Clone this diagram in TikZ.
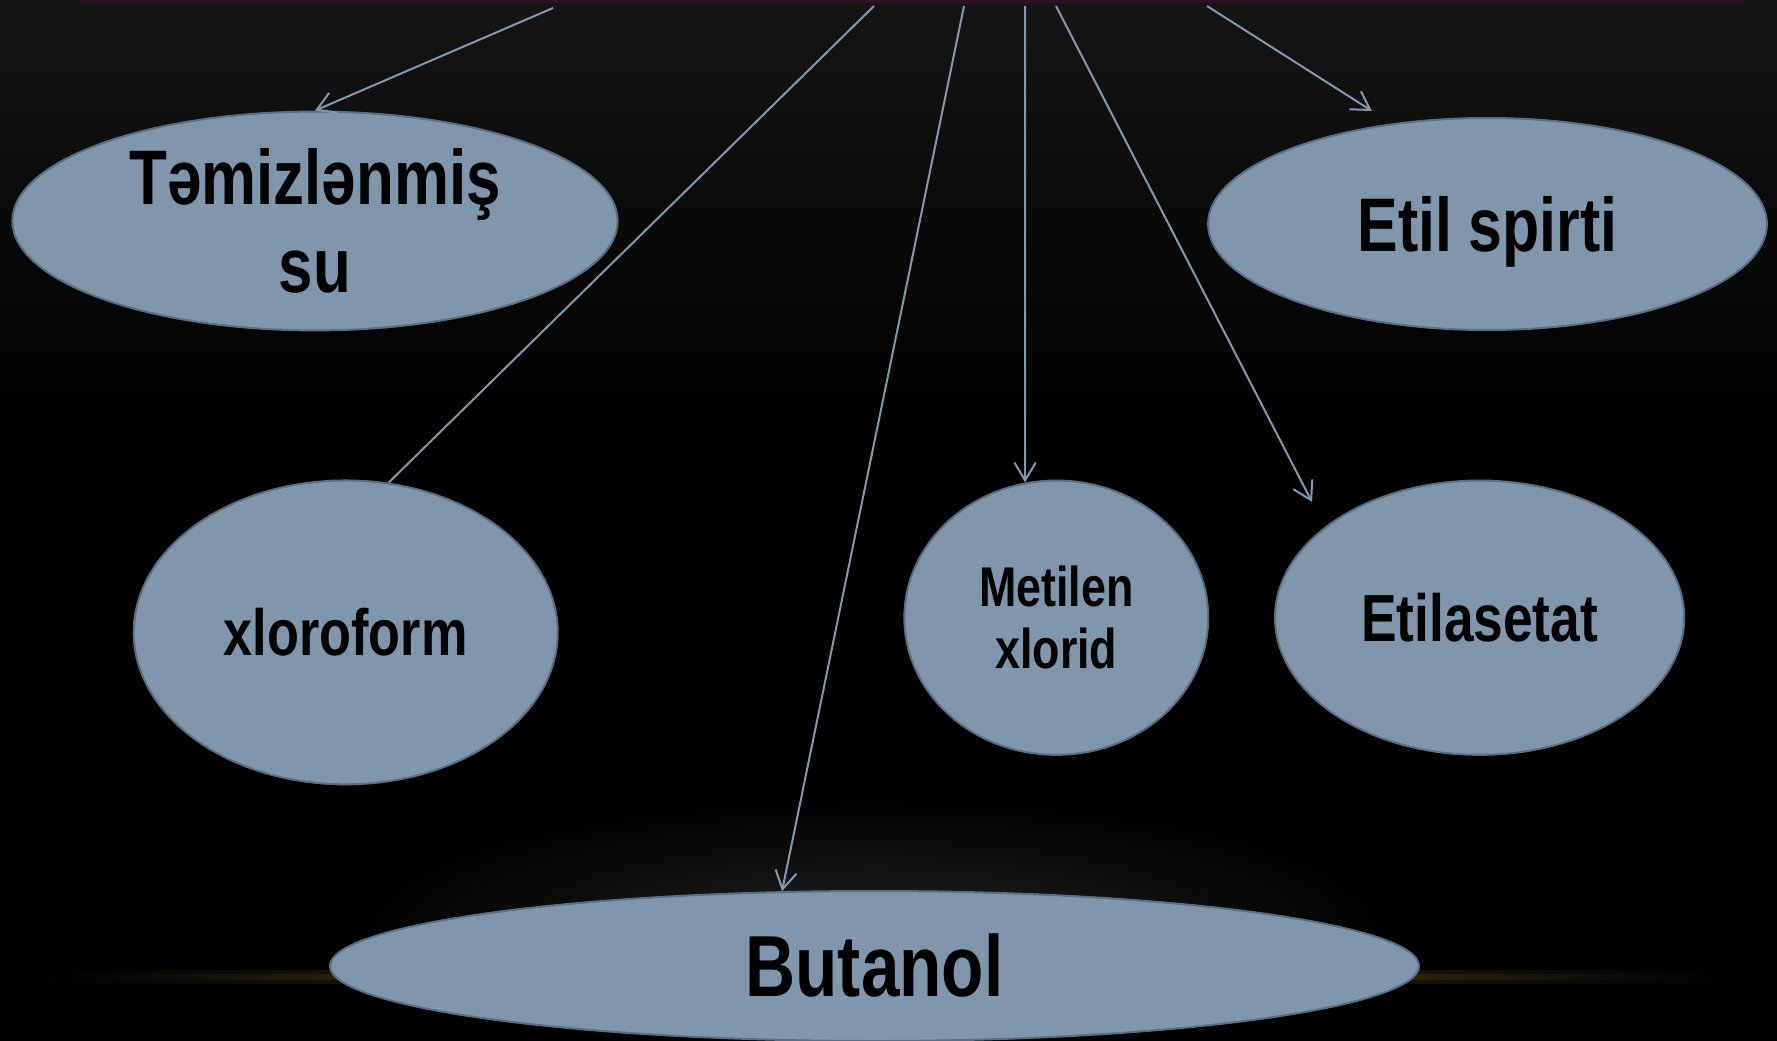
\documentclass[tikz,border=0pt]{standalone}
\usepackage{fontspec}
\newfontfamily\nar[FakeStretch=0.8]{Liberation Sans}
\usetikzlibrary{shapes.geometric,arrows.meta}
\definecolor{fillc}{HTML}{7F96AD}
\definecolor{edgec}{HTML}{5B6F84}
\definecolor{linec}{HTML}{8299B0}
\definecolor{glow}{HTML}{7A5A20}
\definecolor{topline}{HTML}{2E1028}
\begin{document}
\begin{tikzpicture}[x=0.75pt,y=-0.75pt,
  blob/.style={ellipse, draw=edgec, line width=1.5pt, fill=fillc, inner sep=0pt, align=center, text=black},
  link/.style={draw=linec, line width=1.5pt, -{Straight Barb[length=13.5pt,width=16pt]}},
  plain/.style={draw=linec, line width=1.5pt}]
% background
\fill[black] (0,0) rectangle (1777,1041);
\shade[top color={rgb,255:red,21;green,21;blue,21}, bottom color=black] (0,0) rectangle (1777,420);
\useasboundingbox (0,0) rectangle (1777,1041);
\fill[topline] (80,0) rectangle (1745,3);
% glow above butanol
\shade[inner color={rgb,255:red,34;green,34;blue,34}, outer color=black] (874,930) ellipse [x radius=520, y radius=130];
% golden horizon line
\shade[left color=black, right color=black, middle color=glow!55!black] (40,970) rectangle (1737,983);
\shade[left color=black, right color=black, middle color=glow] (60,974) rectangle (1717,979);

% nodes
\node[blob, minimum width=453.9pt, minimum height=164.1pt,
      font={\nar\bfseries\fontsize{58}{66}\selectfont}] (tem) at (315,221) {Təmizlənmiş\\su};
\node[blob, minimum width=419.1pt, minimum height=159pt, text depth=0pt,
      font={\nar\bfseries\fontsize{57}{66}\selectfont}] (et) at (1487.5,224) {Etil spirti};
\node[blob, minimum width=318pt, minimum height=227.9pt,
      font={\nar\bfseries\fontsize{49}{58}\selectfont}] (xl) at (345.7,632.4) {xloroform};
\node[blob, minimum width=227.9pt, minimum height=205.7pt,
      font={\nar\bfseries\fontsize{42}{46.5}\selectfont}] (me) at (1056.3,617.7) {Metilen\\xlorid};
\node[blob, minimum width=306.9pt, minimum height=205.7pt,
      font={\nar\bfseries\fontsize{50}{58}\selectfont}] (ea) at (1479.6,617.7) {Etilasetat};
\node[blob, minimum width=816.8pt, minimum height=112.5pt,
      font={\nar\bfseries\fontsize{65}{72}\selectfont}] (bu) at (874.5,966) {Butanol};

% connector ends
\coordinate (s1) at (553,8);
\coordinate (s2) at (874,6);
\coordinate (s3) at (964,6);
\coordinate (s4) at (1025,6);
\coordinate (s5) at (1056,6);
\coordinate (s6) at (1207,6);
\coordinate (e5) at (1312,502);
\coordinate (e6) at (1372,111);

\draw[link] (s1) -- (tem.north);
\draw[plain] (s2) -- (xl.74);
\draw[link] (s3) -- (bu.141);
\draw[link] (s4) -- (me.103);
\draw[link] (s5) -- (e5);
\draw[link] (s6) -- (e6);
\end{tikzpicture}
\end{document}
